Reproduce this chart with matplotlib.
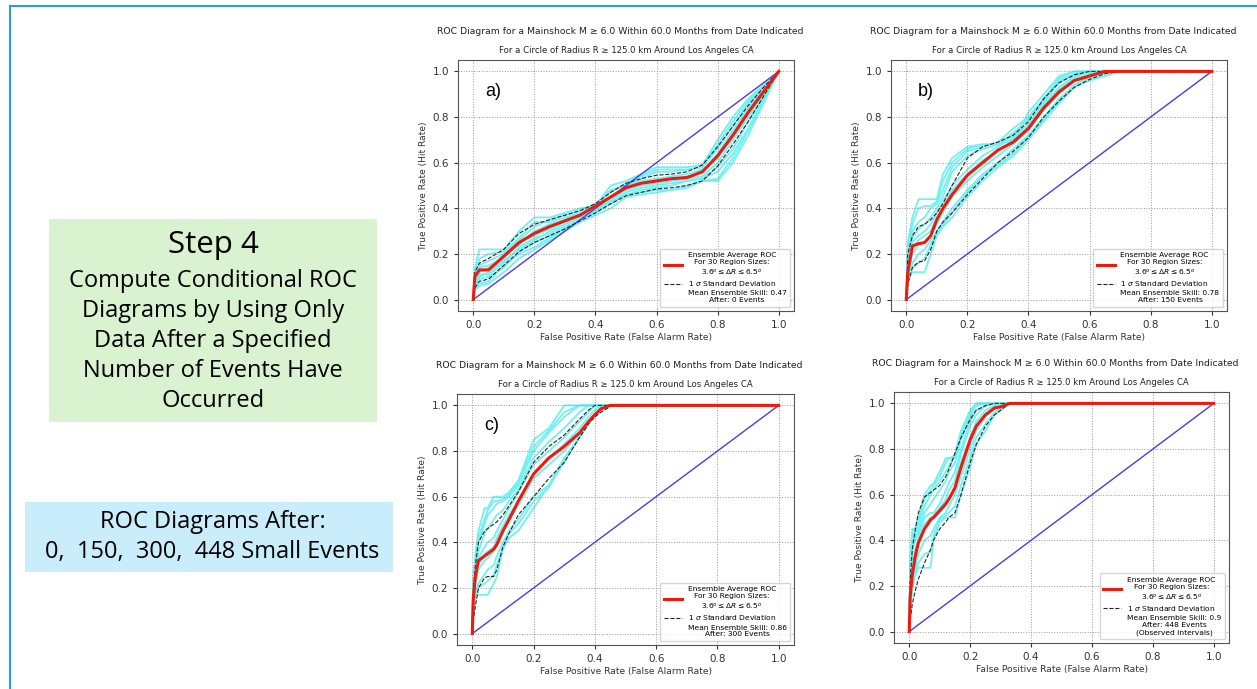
import matplotlib
matplotlib.use('Agg')
import matplotlib.pyplot as plt
from matplotlib.lines import Line2D
from matplotlib.patches import Rectangle

W, H = 1257, 689  # figure size in pixels

# ---- panel a) after 0 events
a_fpr = [0, .005, .02, .05, .1, .15, .2, .25, .3, .35, .4, .45, .5, .55, .6, .65, .7, .75, .8, .85, .9, .95, 1]
a_mean = [0, .10, .13, .13, .19, .25, .29, .32, .345, .37, .41, .45, .49, .51, .52, .53, .535, .56, .63, .72, .82, .91, 1]
a_upper = [0, .12, .16, .18, .22, .29, .33, .35, .37, .39, .42, .47, .51, .53, .545, .55, .56, .59, .67, .76, .85, .93, 1]
a_lower = [0, .05, .08, .09, .15, .21, .25, .28, .31, .345, .38, .42, .455, .47, .485, .49, .50, .52, .585, .68, .78, .89, 1]
a_members = [
    [0, .14, .22, .22, .22, .30, .36, .36, .38, .40, .41, .50, .52, .55, .58, .58, .58, .59, .70, .80, .88, .94, 1],
    [0, .12, .18, .20, .21, .27, .34, .34, .36, .38, .42, .48, .50, .53, .56, .56, .57, .58, .66, .76, .86, .93, 1],
    [0, .10, .15, .17, .20, .26, .32, .35, .37, .39, .42, .47, .51, .54, .57, .57, .57, .58, .68, .78, .87, .93, 1],
    [0, .09, .14, .15, .18, .25, .28, .31, .34, .37, .39, .44, .50, .52, .53, .54, .55, .57, .62, .72, .83, .92, 1],
    [0, .08, .12, .14, .19, .24, .30, .33, .35, .38, .40, .45, .49, .51, .52, .53, .54, .56, .64, .74, .84, .92, 1],
    [0, .07, .11, .11, .16, .23, .27, .29, .32, .35, .39, .43, .47, .49, .50, .51, .52, .53, .58, .66, .78, .89, 1],
    [0, .06, .10, .12, .17, .22, .26, .30, .33, .36, .40, .44, .48, .50, .51, .52, .53, .54, .60, .70, .80, .90, 1],
    [0, .06, .09, .10, .14, .21, .25, .28, .31, .35, .39, .43, .46, .47, .48, .48, .49, .52, .53, .62, .74, .87, 1],
    [0, .05, .07, .08, .15, .20, .23, .27, .31, .35, .38, .42, .46, .48, .49, .50, .52, .53, .56, .64, .75, .88, 1],
    [0, .04, .06, .07, .12, .18, .22, .26, .30, .34, .37, .40, .45, .46, .47, .48, .50, .52, .52, .60, .72, .86, 1],
]

# ---- panel b) after 150 events
b_fpr = [0, .005, .02, .04, .06, .08, .1, .12, .15, .2, .25, .3, .35, .4, .45, .5, .55, .6, .65, .7, 1]
b_mean = [0, .12, .235, .245, .25, .28, .35, .40, .46, .545, .60, .655, .69, .75, .84, .91, .96, .98, 1, 1, 1]
b_upper = [0, .20, .28, .32, .33, .35, .38, .42, .50, .62, .67, .69, .72, .78, .88, .95, .985, 1, 1, 1, 1]
b_lower = [0, .07, .14, .165, .17, .22, .30, .34, .38, .46, .53, .60, .65, .71, .80, .87, .93, .965, .99, 1, 1]
b_members = [
    [0, .25, .36, .44, .44, .44, .44, .55, .62, .67, .68, .68, .70, .82, .90, .98, 1, 1, 1, 1, 1],
    [0, .22, .33, .40, .41, .41, .43, .52, .60, .66, .68, .68, .72, .80, .88, .97, 1, 1, 1, 1, 1],
    [0, .20, .30, .34, .36, .40, .42, .48, .58, .65, .67, .69, .75, .80, .88, .96, .99, 1, 1, 1, 1],
    [0, .18, .27, .31, .33, .36, .40, .45, .56, .63, .66, .68, .73, .79, .87, .95, .99, 1, 1, 1, 1],
    [0, .15, .25, .28, .30, .33, .38, .43, .50, .57, .63, .67, .71, .77, .86, .93, .98, 1, 1, 1, 1],
    [0, .13, .22, .26, .28, .30, .36, .40, .48, .55, .61, .65, .70, .76, .85, .92, .97, 1, 1, 1, 1],
    [0, .12, .20, .24, .25, .28, .33, .38, .45, .52, .58, .63, .68, .74, .83, .90, .96, .99, 1, 1, 1],
    [0, .10, .16, .20, .22, .26, .30, .34, .40, .48, .55, .60, .66, .72, .80, .88, .94, .98, 1, 1, 1],
    [0, .09, .14, .16, .18, .24, .29, .33, .38, .47, .54, .59, .64, .71, .79, .87, .94, .97, .99, 1, 1],
    [0, .08, .12, .12, .12, .20, .28, .32, .36, .45, .52, .58, .63, .70, .78, .86, .93, .96, .98, 1, 1],
]

# ---- panel c) after 300 events
c_fpr = [0, .003, .01, .02, .04, .05, .07, .08, .1, .12, .15, .2, .25, .3, .35, .38, .4, .42, .45, .5, 1]
c_mean = [0, .15, .25, .32, .34, .35, .37, .39, .45, .50, .58, .70, .77, .82, .88, .93, .96, .985, 1, 1, 1]
c_upper = [0, .18, .30, .40, .45, .46, .48, .49, .52, .56, .62, .75, .82, .87, .94, .98, 1, 1, 1, 1, 1]
c_lower = [0, .06, .12, .20, .245, .25, .25, .28, .38, .44, .52, .60, .68, .75, .86, .92, .95, .97, .995, 1, 1]
c_members = [
    [0, .25, .35, .45, .55, .55, .60, .60, .60, .62, .67, .85, .90, 1, 1, 1, 1, 1, 1, 1, 1],
    [0, .22, .33, .42, .50, .54, .58, .58, .59, .61, .66, .82, .89, .97, 1, 1, 1, 1, 1, 1, 1],
    [0, .20, .30, .40, .48, .52, .55, .57, .58, .60, .65, .80, .88, .95, 1, 1, 1, 1, 1, 1, 1],
    [0, .18, .28, .36, .44, .46, .50, .52, .54, .58, .63, .77, .84, .90, .97, 1, 1, 1, 1, 1, 1],
    [0, .15, .25, .33, .38, .40, .42, .45, .50, .55, .62, .74, .80, .86, .93, .97, 1, 1, 1, 1, 1],
    [0, .13, .23, .30, .35, .36, .38, .42, .47, .52, .58, .70, .77, .83, .90, .95, .98, 1, 1, 1, 1],
    [0, .12, .22, .28, .32, .33, .36, .40, .45, .50, .56, .68, .74, .80, .88, .93, .96, .99, 1, 1, 1],
    [0, .10, .18, .22, .26, .28, .30, .34, .40, .45, .50, .60, .65, .77, .86, .92, .96, .98, 1, 1, 1],
    [0, .09, .17, .20, .22, .23, .26, .30, .38, .44, .48, .58, .64, .76, .86, .92, .95, .98, 1, 1, 1],
    [0, .08, .17, .17, .17, .17, .22, .25, .37, .42, .45, .55, .65, .75, .87, .93, .96, .98, 1, 1, 1],
]

# ---- panel d) after 448 events
d_fpr = [0, .003, .01, .02, .03, .05, .07, .08, .1, .12, .13, .15, .17, .2, .22, .25, .28, .3, .33, 1]
d_mean = [0, .15, .25, .33, .39, .45, .49, .50, .53, .56, .58, .63, .72, .84, .90, .95, .98, .985, 1, 1]
d_upper = [0, .22, .36, .45, .52, .59, .61, .62, .64, .68, .71, .78, .85, .93, .97, .99, 1, 1, 1, 1]
d_lower = [0, .05, .12, .18, .23, .30, .36, .40, .45, .48, .50, .52, .60, .74, .82, .90, .95, .97, 1, 1]
d_members = [
    [0, .30, .45, .45, .50, .60, .64, .65, .70, .76, .76, .76, .85, .95, 1, 1, 1, 1, 1, 1],
    [0, .28, .42, .44, .48, .58, .62, .64, .68, .74, .76, .77, .86, .96, 1, 1, 1, 1, 1, 1],
    [0, .25, .40, .42, .46, .55, .60, .62, .66, .70, .72, .78, .88, .97, 1, 1, 1, 1, 1, 1],
    [0, .22, .38, .41, .44, .52, .56, .58, .62, .66, .70, .74, .84, .94, .99, 1, 1, 1, 1, 1],
    [0, .20, .35, .40, .42, .50, .52, .52, .56, .62, .65, .70, .80, .92, .97, .99, 1, 1, 1, 1],
    [0, .18, .30, .36, .40, .47, .50, .51, .54, .58, .62, .66, .78, .90, .95, .99, 1, 1, 1, 1],
    [0, .16, .28, .34, .38, .45, .48, .50, .52, .55, .58, .62, .74, .85, .92, .97, .99, 1, 1, 1],
    [0, .12, .22, .28, .34, .40, .42, .45, .50, .52, .55, .60, .68, .80, .88, .94, .98, .99, 1, 1],
    [0, .11, .20, .26, .30, .34, .35, .42, .49, .51, .52, .55, .64, .76, .85, .91, .96, .98, 1, 1],
    [0, .10, .18, .25, .28, .28, .28, .40, .48, .50, .50, .50, .60, .72, .82, .88, .95, .97, 1, 1],
]

panel_tags = ['a)', 'b)', 'c)', '']
skills = ['0.47', '0.78', '0.86', '0.9']
events = ['0', '150', '300', '448']

title1 = 'ROC Diagram for a Mainshock M ≥ 6.0 Within 60.0 Months from Date Indicated'
title2 = 'For a Circle of Radius R ≥ 125.0 km Around Los Angeles CA'


def px(x, y):  # pixel (from top-left) -> figure fraction
    return x / W, 1 - y / H


def draw_panel(ax, fpr, mean, upper, lower, members, tag, skill, nev, observed):
    for m in members:
        ax.plot(fpr, m, color='#70F0F2', lw=1.3, zorder=1)
    ax.plot([0, 1], [0, 1], color='#4A3AF0', lw=1.0, zorder=2)
    ax.plot(fpr, mean, color='#F01A0A', lw=2.2, zorder=4)
    ax.plot(fpr, upper, color='#222222', lw=0.8, ls='--', zorder=3)
    ax.plot(fpr, lower, color='#222222', lw=0.8, ls='--', zorder=3)
    ax.set_xlim(-0.05, 1.05)
    ax.set_ylim(-0.05, 1.05)
    ax.set_xticks([0, .2, .4, .6, .8, 1.0])
    ax.set_yticks([0, .2, .4, .6, .8, 1.0])
    ax.tick_params(labelsize=7.5, length=3, colors='#333333')
    ax.grid(True, ls=':', color='#999999', lw=0.7)
    for s in ax.spines.values():
        s.set_color('#555555')
    ax.set_xlabel('False Positive Rate (False Alarm Rate)', fontsize=6.6, labelpad=2, color='#333333')
    ax.set_ylabel('True Positive Rate (Hit Rate)', fontsize=6.6, labelpad=3, color='#333333')
    ax.set_title(title2, fontsize=6.1, pad=5, color='#222222')
    if tag:
        ax.text(0.065, 0.91, tag, fontsize=13, ha='center', va='center', family='Liberation Sans')
    txt3 = 'Mean Ensemble Skill: ' + skill + '\nAfter: ' + nev + ' Events'
    if observed:
        txt3 += '\n(Observed Intervals)'
    handles = [Line2D([], [], color='#F01A0A', lw=2.2),
               Line2D([], [], color='#222222', lw=0.8, ls='--'),
               Line2D([], [], color='none')]
    labels = ['Ensemble Average ROC\nFor 30 Region Sizes:\n$3.6^o \\leq \\Delta R \\leq 6.5^o$',
              '1 $\\sigma$ Standard Deviation', txt3]
    leg = ax.legend(handles, labels, loc='lower right', fontsize=5.4, handlelength=2.4,
                    labelspacing=0.3, borderpad=0.5)
    for t in leg.get_texts():
        t.set_multialignment('center')


fig = plt.figure(figsize=(W / 100, H / 100), dpi=100)

# panel frames in pixels: left, top, right, bottom
boxes = [(458, 60, 794, 311), (891, 60, 1227, 311), (457, 394, 794, 645), (894, 392, 1229, 643)]
title_y = [32, 32, 366, 364]
data = [(a_fpr, a_mean, a_upper, a_lower, a_members),
        (b_fpr, b_mean, b_upper, b_lower, b_members),
        (c_fpr, c_mean, c_upper, c_lower, c_members),
        (d_fpr, d_mean, d_upper, d_lower, d_members)]

for i in range(4):
    l, t, r, b = boxes[i]
    ax = fig.add_axes([l / W, 1 - b / H, (r - l) / W, (b - t) / H])
    fpr, mean, upper, lower, members = data[i]
    draw_panel(ax, fpr, mean, upper, lower, members, panel_tags[i], skills[i], events[i], i == 3)
    fx, fy = px((l + r) / 2 - 6, title_y[i])
    fig.text(fx, fy, title1, fontsize=6.7, ha='center', va='center', color='#222222')

# left side text boxes
fig.add_artist(Rectangle(px(49, 422), 328 / W, 203 / H, transform=fig.transFigure,
                         facecolor='#D9F2D0', edgecolor='none'))
fig.add_artist(Rectangle(px(25, 572), 368 / W, 70 / H, transform=fig.transFigure,
                         facecolor='#CAEDFB', edgecolor='none'))
fam = ['Open Sans', 'DejaVu Sans']
x0, y0 = px(213, 245)
fig.text(x0, y0, 'Step 4', fontsize=22.5, ha='center', va='center', family=fam)
lines = ['Compute Conditional ROC', 'Diagrams by Using Only', 'Data After a Specified',
         'Number of Events Have', 'Occurred']
for k, s in enumerate(lines):
    x0, y0 = px(213, 281 + 30 * k)
    fig.text(x0, y0, s, fontsize=17, ha='center', va='center', family=fam)
x0, y0 = px(213, 522)
fig.text(x0, y0, 'ROC Diagrams After:', fontsize=17, ha='center', va='center', family=fam)
x0, y0 = px(212, 552)
fig.text(x0, y0, '0,  150,  300,  448 Small Events', fontsize=17, ha='center', va='center', family=fam)

# thin blue slide border (top and left)
fig.add_artist(Line2D([10 / W, 10 / W], [0, 1 - 6 / H], transform=fig.transFigure, color='#2E9AD6', lw=1.5))
fig.add_artist(Line2D([10 / W, 1], [1 - 6 / H, 1 - 6 / H], transform=fig.transFigure, color='#2E9AD6', lw=1.5))

fig.savefig('out.png', dpi=100)
